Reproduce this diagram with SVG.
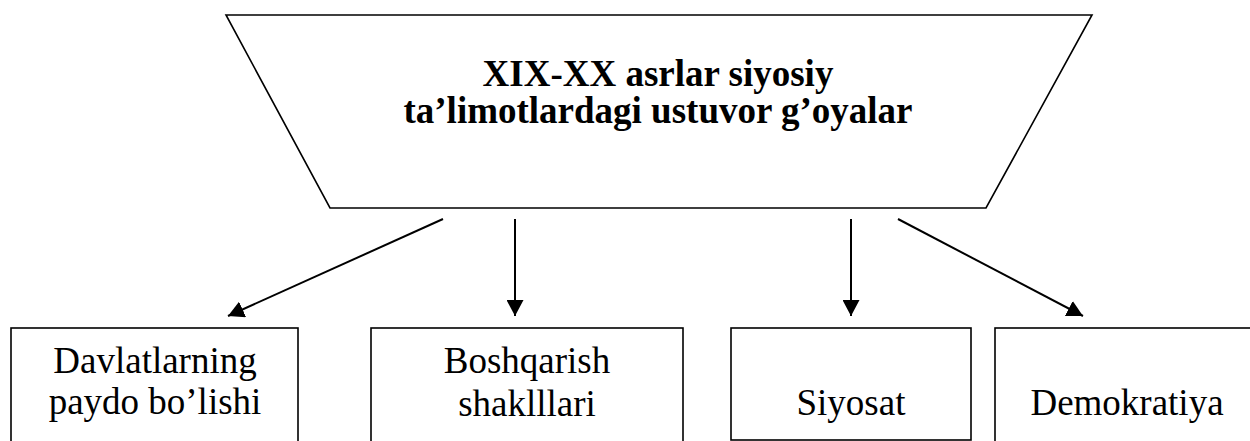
<svg xmlns="http://www.w3.org/2000/svg" width="1250" height="441" viewBox="0 0 1250 441">
  <style>
    .shape { fill: #ffffff; stroke: #000000; stroke-width: 1.6; }
    .title { font-weight: bold; font-size: 37px; fill: #000; text-anchor: middle; }
    .label { font-size: 37px; fill: #000; text-anchor: middle; }
    .conn { stroke: #000; stroke-width: 2; fill: none; marker-end: url(#arrow); }
  </style>
  <defs>
    <marker id="arrow" markerUnits="userSpaceOnUse" markerWidth="17" markerHeight="17" refX="16" refY="8.5" orient="auto" viewBox="0 0 17 17">
      <path d="M0,0 L16,8.5 L0,17 z" fill="#000"/>
    </marker>
  </defs>
  <rect width="1250" height="441" fill="#ffffff"/>

  <g id="top" font-family="'Liberation Serif', 'Times New Roman', Tinos, 'DejaVu Serif', serif">
    <polygon class="shape" points="226,15 1092,15 986,208 330,208" stroke-width="2"/>
    <text class="title" x="658" y="86">XIX-XX asrlar siyosiy</text>
    <text class="title" x="658" y="123">ta’limotlardagi ustuvor g’oyalar</text>
  </g>

  <g id="connectors">
    <line class="conn" x1="443" y1="219" x2="228" y2="316"/>
    <line class="conn" x1="515" y1="219" x2="515" y2="316"/>
    <line class="conn" x1="851" y1="219" x2="851" y2="316"/>
    <line class="conn" x1="898" y1="219" x2="1083" y2="316"/>
  </g>

  <g id="box1" font-family="'Liberation Serif', 'Times New Roman', Tinos, 'DejaVu Serif', serif">
    <rect class="shape" x="11" y="328" width="287" height="120"/>
    <text class="label" x="155" y="373">Davlatlarning</text>
    <text class="label" x="155" y="414">paydo bo’lishi</text>
  </g>

  <g id="box2" font-family="'Liberation Serif', 'Times New Roman', Tinos, 'DejaVu Serif', serif">
    <rect class="shape" x="371" y="328" width="312" height="120"/>
    <text class="label" x="527" y="373">Boshqarish</text>
    <text class="label" x="527" y="416">shaklllari</text>
  </g>

  <g id="box3" font-family="'Liberation Serif', 'Times New Roman', Tinos, 'DejaVu Serif', serif">
    <rect class="shape" x="731" y="328" width="240" height="112"/>
    <text class="label" x="851" y="415">Siyosat</text>
  </g>

  <g id="box4" font-family="'Liberation Serif', 'Times New Roman', Tinos, 'DejaVu Serif', serif">
    <rect class="shape" x="995" y="328" width="270" height="120"/>
    <text class="label" x="1127" y="415">Demokratiya</text>
  </g>
</svg>
